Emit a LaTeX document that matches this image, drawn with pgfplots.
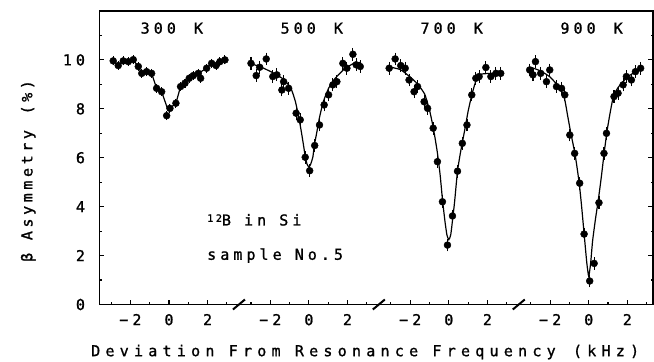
\documentclass[border=0pt]{standalone}
\usepackage{fontspec}
\setmainfont{DejaVu Sans Mono}[LetterSpace=27, FakeBold=1.2]
\newfontfamily\xlfont{DejaVu Sans Mono}[LetterSpace=35, FakeBold=1.2]
\newfontfamily\ylfont{DejaVu Sans Mono}[LetterSpace=24, FakeBold=1.2]
\usepackage{pgfplots}
\usepackage{pgfplotstable}
\pgfplotsset{compat=1.18}

% 300 K
\pgfplotstableread{
x y e
-2.89 9.96 0.10
-2.63 9.77 0.10
-2.37 9.96 0.10
-2.11 9.93 0.10
-1.85 10.01 0.10
-1.59 9.73 0.10
-1.41 9.45 0.10
-1.16 9.52 0.10
-0.90 9.45 0.10
-0.64 8.84 0.10
-0.38 8.70 0.10
-0.12 7.72 0.10
0.05 8.02 0.10
0.36 8.23 0.10
0.60 8.91 0.10
0.83 9.05 0.10
1.05 9.25 0.10
1.26 9.36 0.10
1.52 9.45 0.10
1.64 9.25 0.10
1.95 9.66 0.10
2.21 9.86 0.10
2.44 9.77 0.10
2.64 9.93 0.10
2.90 10.00 0.10
}\dataA
\pgfplotstableread{
x y
-2.89 9.96
-2.63 9.77
-2.37 9.96
-2.11 9.93
-1.85 10.0
-1.59 9.73
-1.41 9.45
-1.16 9.52
-0.90 9.45
-0.64 8.84
-0.38 8.70
-0.05 7.95
0.36 8.23
0.60 8.91
0.83 9.05
1.05 9.25
1.26 9.36
1.52 9.45
1.95 9.66
2.21 9.86
2.44 9.77
2.64 9.93
2.90 10.0
}\lineA
% 500 K
\pgfplotstableread{
x y e
-3.00 9.86 0.18
-2.73 9.36 0.18
-2.55 9.70 0.18
-2.21 10.04 0.18
-1.87 9.32 0.18
-1.66 9.39 0.18
-1.40 8.77 0.18
-1.31 9.11 0.18
-1.05 8.84 0.18
-0.66 7.82 0.18
-0.45 7.55 0.18
-0.19 6.02 0.18
0.04 5.47 0.18
0.30 6.50 0.18
0.55 7.34 0.18
0.79 8.16 0.18
1.02 8.57 0.18
1.24 8.98 0.18
1.45 9.11 0.18
1.76 9.86 0.18
1.97 9.66 0.18
2.28 10.23 0.18
2.45 9.80 0.18
2.66 9.73 0.18
}\dataB
\pgfplotstableread{
x y
-3.0 9.85
-2.4 9.68
-1.8 9.45
-1.3 9.2
-0.93 8.84
-0.7 8.3
-0.53 7.68
-0.4 7.1
-0.28 6.52
-0.19 6.05
-0.1 5.75
0.0 5.62
0.1 5.75
0.21 6.05
0.28 6.5
0.4 7.0
0.55 7.65
0.75 8.3
1.02 8.84
1.31 9.2
1.8 9.6
2.3 9.85
2.7 9.9
}\fitB
% 700 K
\pgfplotstableread{
x y e
-3.09 9.66 0.18
-2.78 10.04 0.18
-2.49 9.77 0.18
-2.26 9.66 0.18
-2.06 9.18 0.18
-1.80 8.70 0.18
-1.62 8.91 0.18
-1.28 8.29 0.18
-1.10 8.02 0.18
-0.81 7.21 0.18
-0.59 5.84 0.18
-0.33 4.20 0.18
-0.07 2.43 0.18
0.19 3.62 0.18
0.45 5.45 0.18
0.70 6.59 0.18
0.94 7.34 0.18
1.19 8.57 0.18
1.40 9.25 0.18
1.57 9.32 0.18
1.92 9.69 0.18
2.18 9.32 0.18
2.44 9.45 0.18
2.69 9.45 0.18
}\dataC
\pgfplotstableread{
x y
-3.0 9.7
-2.5 9.6
-2.0 9.3
-1.6 9.0
-1.25 8.6
-1.0 7.95
-0.8 7.2
-0.6 6.25
-0.45 5.3
-0.33 4.3
-0.2 3.4
-0.1 2.85
0.0 2.65
0.1 2.85
0.2 3.5
0.3 4.2
0.45 5.45
0.6 6.2
0.84 7.2
1.0 7.9
1.2 8.6
1.43 9.2
1.7 9.42
2.2 9.45
2.7 9.5
}\fitC
% 900 K
\pgfplotstableread{
x y e
-3.06 9.59 0.18
-2.89 9.39 0.18
-2.76 9.93 0.18
-2.49 9.45 0.18
-2.19 9.11 0.18
-2.02 9.59 0.18
-1.67 8.91 0.18
-1.41 8.84 0.18
-1.24 8.57 0.18
-0.98 6.93 0.18
-0.73 6.18 0.18
-0.47 4.96 0.18
-0.24 2.88 0.18
0.05 0.96 0.18
0.28 1.68 0.18
0.53 4.16 0.18
0.79 6.18 0.18
0.92 7.00 0.18
1.31 8.50 0.18
1.52 8.64 0.18
1.78 8.98 0.18
1.95 9.32 0.18
2.21 9.18 0.18
2.42 9.52 0.18
2.69 9.66 0.18
}\dataD
\pgfplotstableread{
x y
-3.0 9.7
-2.5 9.55
-2.0 9.3
-1.5 8.85
-1.25 8.4
-1.1 7.75
-0.95 7.1
-0.7 6.1
-0.5 5.0
-0.38 4.1
-0.24 2.9
-0.1 1.7
0.0 1.15
0.1 1.7
0.2 2.6
0.35 3.5
0.5 4.3
0.65 5.2
0.8 6.2
0.95 7.1
1.1 7.8
1.25 8.4
1.5 8.85
2.0 9.3
2.4 9.5
2.8 9.65
}\fitD

\begin{document}
\begin{tikzpicture}[font=\fontsize{15bp}{18bp}\selectfont]
\path[use as bounding box] (-99.5bp,-57.5bp) rectangle (554.5bp,304.5bp);
\begin{axis}[
  at={(0,0)}, anchor=south west,
  scale only axis, width=553.5bp, height=293.5bp,
  xmin=-3.6, xmax=25.08, ymin=0, ymax=12,
  clip mode=individual,
  axis line style={line width=1.2bp},
  every tick/.style={black, line width=1.1bp},
  tick align=inside,
  xtick pos=left,
  xtick={-2,0,2,5.25,7.25,9.25,12.5,14.5,16.5,19.75,21.75,23.75},
  xticklabels={−2,0,2,−2,0,2,−2,0,2,−2,0,2},
  minor xtick={-3,-1,1,3,4.25,6.25,8.25,10.25,11.5,13.5,15.5,17.5,18.75,20.75,22.75,24.75},
  ytick={0,2,4,6,8,10},
  minor ytick={1,3,5,7,9,11},
  major tick length=5bp, minor tick length=2.5bp,
  /pgf/number format/assume math mode=true,
  yticklabel style={xshift=-11bp},
  xticklabel style={yshift=-6bp},
  xlabel={\xlfont Deviation From Resonance Frequency\ \hspace{3bp}(kHz)},
  xlabel style={at={(axis description cs:0.48,-0.162)}, anchor=center},
  ylabel={\ylfont β Asymmetry\ \hspace{3bp}(\%)},
  ylabel style={at={(axis description cs:-0.129,0.455)}, anchor=center, rotate=0},
  every axis plot/.append style={black},
]
% 300 K
\addplot[line width=1.2bp] table[x=x, y=y] {\lineA};
\addplot[only marks, mark=*, mark size=3.5pt, mark options={fill=black},
  error bars/.cd, y dir=both, y explicit, error bar style={line width=1.1bp}, error mark options={mark size=2pt, line width=1.1bp}]
  table[x=x, y=y, y error=e] {\dataA};
% 500 K
\addplot[line width=1.2bp, smooth, tension=0.3] table[x expr=\thisrow{x}+7.25, y=y] {\fitB};
\addplot[only marks, mark=*, mark size=3.5pt, mark options={fill=black},
  error bars/.cd, y dir=both, y explicit, error bar style={line width=1.1bp}, error mark options={mark size=2pt, line width=1.1bp}]
  table[x expr=\thisrow{x}+7.25, y=y, y error=e] {\dataB};
% 700 K
\addplot[line width=1.2bp, smooth, tension=0.3] table[x expr=\thisrow{x}+14.5, y=y] {\fitC};
\addplot[only marks, mark=*, mark size=3.5pt, mark options={fill=black},
  error bars/.cd, y dir=both, y explicit, error bar style={line width=1.1bp}, error mark options={mark size=2pt, line width=1.1bp}]
  table[x expr=\thisrow{x}+14.5, y=y, y error=e] {\dataC};
% 900 K
\addplot[line width=1.2bp, smooth, tension=0.3] table[x expr=\thisrow{x}+21.75, y=y] {\fitD};
\addplot[only marks, mark=*, mark size=3.5pt, mark options={fill=black},
  error bars/.cd, y dir=both, y explicit, error bar style={line width=1.1bp}, error mark options={mark size=2pt, line width=1.1bp}]
  table[x expr=\thisrow{x}+21.75, y=y, y error=e] {\dataD};
% titles
\node at (axis cs:0.15,11.3) {300\hspace{5bp} K};
\node at (axis cs:7.4,11.3) {500\hspace{5bp} K};
\node at (axis cs:14.65,11.3) {700\hspace{5bp} K};
\node at (axis cs:21.9,11.3) {900\hspace{5bp} K};
% annotations
\node[anchor=west] at (axis cs:1.8,3.46) {\raisebox{0.45ex}{\fontsize{10bp}{11bp}\selectfont 12}B in Si};
\node[anchor=west] at (axis cs:1.8,2.0) {sample No.5};
% axis breaks
\draw[line width=2bp] (axis cs:3.625,0) ++(-6bp,-5bp) -- ++(12bp,10bp);
\draw[line width=2bp] (axis cs:10.875,0) ++(-6bp,-5bp) -- ++(12bp,10bp);
\draw[line width=2bp] (axis cs:18.125,0) ++(-6bp,-5bp) -- ++(12bp,10bp);
\end{axis}
\end{tikzpicture}
\end{document}
